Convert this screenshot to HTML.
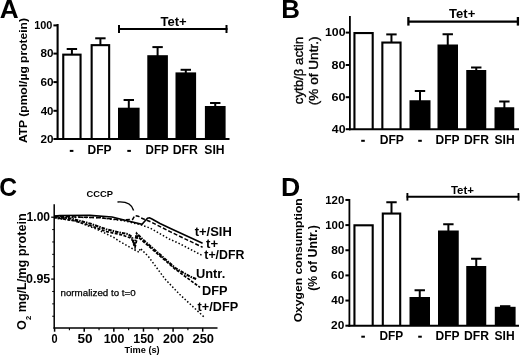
<!DOCTYPE html>
<html><head><meta charset="utf-8"><style>
html,body{margin:0;padding:0;background:#fff;}
svg{display:block;font-family:"Liberation Sans", sans-serif;will-change:transform;}
</style></head><body>
<svg width="520" height="356" viewBox="0 0 520 356">
<text x="-0.3" y="17.6" font-size="26" font-weight="bold" textLength="18.92" lengthAdjust="spacingAndGlyphs" >A</text>
<line x1="57.6" y1="24" x2="57.6" y2="140" stroke="#000" stroke-width="2.1" />
<line x1="53.4" y1="25.4" x2="57.6" y2="25.4" stroke="#000" stroke-width="2" />
<text x="34.22" y="29.29" font-size="10.6" font-weight="bold" textLength="18.23" lengthAdjust="spacingAndGlyphs" >100</text>
<line x1="53.4" y1="53.6" x2="57.6" y2="53.6" stroke="#000" stroke-width="2" />
<text x="40.52" y="57.49" font-size="10.6" font-weight="bold" textLength="12.97" lengthAdjust="spacingAndGlyphs" >80</text>
<line x1="53.4" y1="82.1" x2="57.6" y2="82.1" stroke="#000" stroke-width="2" />
<text x="40.46" y="85.99" font-size="10.6" font-weight="bold" textLength="13.04" lengthAdjust="spacingAndGlyphs" >60</text>
<line x1="53.4" y1="110.8" x2="57.6" y2="110.8" stroke="#000" stroke-width="2" />
<text x="40.73" y="114.69" font-size="10.6" font-weight="bold" textLength="12.76" lengthAdjust="spacingAndGlyphs" >40</text>
<line x1="53.4" y1="139" x2="57.6" y2="139" stroke="#000" stroke-width="2" />
<text x="40.49" y="142.89" font-size="10.6" font-weight="bold" textLength="13" lengthAdjust="spacingAndGlyphs" >20</text>
<rect x="62.2" y="53.6" width="19.4" height="85.4" fill="#000"/>
<rect x="64.3" y="55.7" width="15.2" height="83.3" fill="#fff"/>
<line x1="71.9" y1="49" x2="71.9" y2="54.6" stroke="#000" stroke-width="2" />
<line x1="66.7" y1="49" x2="77.1" y2="49" stroke="#000" stroke-width="2" />
<rect x="90.6" y="44.1" width="19.6" height="94.9" fill="#000"/>
<rect x="92.7" y="46.2" width="15.4" height="92.8" fill="#fff"/>
<line x1="100.4" y1="38.3" x2="100.4" y2="45.1" stroke="#000" stroke-width="2" />
<line x1="95.2" y1="38.3" x2="105.6" y2="38.3" stroke="#000" stroke-width="2" />
<rect x="118" y="107.7" width="21.6" height="31.3" fill="#000"/>
<line x1="128.8" y1="100" x2="128.8" y2="108.7" stroke="#000" stroke-width="2" />
<line x1="123.6" y1="100" x2="134" y2="100" stroke="#000" stroke-width="2" />
<rect x="147.3" y="55.2" width="20.6" height="83.8" fill="#000"/>
<line x1="157.6" y1="47.1" x2="157.6" y2="56.2" stroke="#000" stroke-width="2" />
<line x1="152.4" y1="47.1" x2="162.8" y2="47.1" stroke="#000" stroke-width="2" />
<rect x="175.5" y="72.4" width="20.6" height="66.6" fill="#000"/>
<line x1="185.8" y1="69.8" x2="185.8" y2="73.4" stroke="#000" stroke-width="2" />
<line x1="180.6" y1="69.8" x2="191" y2="69.8" stroke="#000" stroke-width="2" />
<rect x="204.9" y="106" width="20.7" height="33" fill="#000"/>
<line x1="215.25" y1="103" x2="215.25" y2="107" stroke="#000" stroke-width="2" />
<line x1="210.05" y1="103" x2="220.45" y2="103" stroke="#000" stroke-width="2" />
<line x1="56.6" y1="139" x2="229.5" y2="139" stroke="#000" stroke-width="2.1" />
<text x="87.54" y="153.65" font-size="12.07" font-weight="bold" textLength="24.03" lengthAdjust="spacingAndGlyphs" >DFP</text>
<text x="145.57" y="153.65" font-size="12.07" font-weight="bold" textLength="23.19" lengthAdjust="spacingAndGlyphs" >DFP</text>
<text x="172.72" y="153.65" font-size="12.07" font-weight="bold" textLength="25.28" lengthAdjust="spacingAndGlyphs" >DFR</text>
<text x="204.39" y="153.65" font-size="12.07" font-weight="bold" textLength="20.28" lengthAdjust="spacingAndGlyphs" >SIH</text>
<rect x="69.8" y="149.9" width="3.6" height="2" fill="#000"/>
<rect x="127.3" y="149.9" width="3.6" height="2" fill="#000"/>
<line x1="118" y1="29" x2="227.5" y2="29" stroke="#000" stroke-width="2" />
<line x1="119" y1="25" x2="119" y2="33" stroke="#000" stroke-width="2" />
<line x1="226.5" y1="25" x2="226.5" y2="33" stroke="#000" stroke-width="2" />
<text x="160.52" y="25.63" font-size="12.33" font-weight="bold" textLength="26.15" lengthAdjust="spacingAndGlyphs" >Tet+</text>
<text transform="translate(27.33,143.1) rotate(-90)" font-size="11.63" font-weight="bold" textLength="125.1" lengthAdjust="spacingAndGlyphs" >ATP (pmol/µg protein)</text>
<text x="281.15" y="17.9" font-size="26" font-weight="bold" textLength="18.71" lengthAdjust="spacingAndGlyphs" >B</text>
<line x1="349.9" y1="16" x2="349.9" y2="130.2" stroke="#000" stroke-width="1.8" />
<line x1="345.7" y1="32.6" x2="349.9" y2="32.6" stroke="#000" stroke-width="2" />
<text x="324.98" y="36.24" font-size="11.45" font-weight="bold" textLength="20.58" lengthAdjust="spacingAndGlyphs" >100</text>
<line x1="345.7" y1="65" x2="349.9" y2="65" stroke="#000" stroke-width="2" />
<text x="331.64" y="68.64" font-size="11.45" font-weight="bold" textLength="13.94" lengthAdjust="spacingAndGlyphs" >80</text>
<line x1="345.7" y1="97.2" x2="349.9" y2="97.2" stroke="#000" stroke-width="2" />
<text x="331.58" y="100.84" font-size="11.45" font-weight="bold" textLength="14.01" lengthAdjust="spacingAndGlyphs" >60</text>
<line x1="345.7" y1="129.2" x2="349.9" y2="129.2" stroke="#000" stroke-width="2" />
<text x="331.87" y="132.84" font-size="11.45" font-weight="bold" textLength="13.71" lengthAdjust="spacingAndGlyphs" >40</text>
<rect x="353.4" y="32" width="20.35" height="97.2" fill="#000"/>
<rect x="355.5" y="34.1" width="16.15" height="95.1" fill="#fff"/>
<rect x="381.3" y="41.5" width="20.3" height="87.7" fill="#000"/>
<rect x="383.4" y="43.6" width="16.1" height="85.6" fill="#fff"/>
<line x1="391.45" y1="34.4" x2="391.45" y2="42.5" stroke="#000" stroke-width="2" />
<line x1="386.25" y1="34.4" x2="396.65" y2="34.4" stroke="#000" stroke-width="2" />
<rect x="409.5" y="100.25" width="21" height="28.95" fill="#000"/>
<line x1="420" y1="91" x2="420" y2="101.25" stroke="#000" stroke-width="2" />
<line x1="414.8" y1="91" x2="425.2" y2="91" stroke="#000" stroke-width="2" />
<rect x="437.5" y="44.5" width="20.5" height="84.7" fill="#000"/>
<line x1="447.75" y1="34.25" x2="447.75" y2="45.5" stroke="#000" stroke-width="2" />
<line x1="442.55" y1="34.25" x2="452.95" y2="34.25" stroke="#000" stroke-width="2" />
<rect x="466.25" y="70" width="20" height="59.2" fill="#000"/>
<line x1="476.25" y1="67.5" x2="476.25" y2="71" stroke="#000" stroke-width="2" />
<line x1="471.05" y1="67.5" x2="481.45" y2="67.5" stroke="#000" stroke-width="2" />
<rect x="494.5" y="107.25" width="19.75" height="21.95" fill="#000"/>
<line x1="504.38" y1="101.5" x2="504.38" y2="108.25" stroke="#000" stroke-width="2" />
<line x1="499.18" y1="101.5" x2="509.57" y2="101.5" stroke="#000" stroke-width="2" />
<line x1="348.9" y1="129.2" x2="519" y2="129.2" stroke="#000" stroke-width="2.1" />
<text x="379.73" y="143.65" font-size="12.07" font-weight="bold" textLength="24.24" lengthAdjust="spacingAndGlyphs" >DFP</text>
<text x="435.54" y="143.65" font-size="12.07" font-weight="bold" textLength="24.03" lengthAdjust="spacingAndGlyphs" >DFP</text>
<text x="464.03" y="143.65" font-size="12.07" font-weight="bold" textLength="24.97" lengthAdjust="spacingAndGlyphs" >DFR</text>
<text x="494.59" y="143.65" font-size="12.07" font-weight="bold" textLength="20.07" lengthAdjust="spacingAndGlyphs" >SIH</text>
<rect x="361.2" y="139.8" width="3.6" height="2" fill="#000"/>
<rect x="418.2" y="139.8" width="3.6" height="2" fill="#000"/>
<line x1="408" y1="21.6" x2="519" y2="21.6" stroke="#000" stroke-width="2.2" />
<line x1="408.4" y1="17" x2="408.4" y2="25.6" stroke="#000" stroke-width="2.3" />
<line x1="517.9" y1="17" x2="517.9" y2="25.6" stroke="#000" stroke-width="2.3" />
<text x="449.12" y="18.33" font-size="12.33" font-weight="bold" textLength="26.15" lengthAdjust="spacingAndGlyphs" >Tet+</text>
<text transform="translate(302.67,104.21) rotate(-90)" font-size="12.44" font-weight="normal" textLength="67.32" lengthAdjust="spacingAndGlyphs" stroke="#000" stroke-width="0.35">cytb/β actin</text>
<text transform="translate(318.01,105.2) rotate(-90)" font-size="12.23" font-weight="normal" textLength="68.69" lengthAdjust="spacingAndGlyphs" stroke="#000" stroke-width="0.35">(% of Untr.)</text>
<text x="281" y="195.9" font-size="26" font-weight="bold" textLength="19.22" lengthAdjust="spacingAndGlyphs" >D</text>
<line x1="349.4" y1="199" x2="349.4" y2="326.7" stroke="#000" stroke-width="1.8" />
<line x1="345.4" y1="199.95" x2="349.4" y2="199.95" stroke="#000" stroke-width="2" />
<text x="325.24" y="203.59" font-size="10.88" font-weight="bold" textLength="19.08" lengthAdjust="spacingAndGlyphs" >120</text>
<line x1="345.4" y1="225.1" x2="349.4" y2="225.1" stroke="#000" stroke-width="2" />
<text x="325.24" y="228.74" font-size="10.88" font-weight="bold" textLength="19.08" lengthAdjust="spacingAndGlyphs" >100</text>
<line x1="345.4" y1="250.25" x2="349.4" y2="250.25" stroke="#000" stroke-width="2" />
<text x="331.16" y="253.89" font-size="10.88" font-weight="bold" textLength="13.19" lengthAdjust="spacingAndGlyphs" >80</text>
<line x1="345.4" y1="275.4" x2="349.4" y2="275.4" stroke="#000" stroke-width="2" />
<text x="331.1" y="279.04" font-size="10.88" font-weight="bold" textLength="13.25" lengthAdjust="spacingAndGlyphs" >60</text>
<line x1="345.4" y1="300.55" x2="349.4" y2="300.55" stroke="#000" stroke-width="2" />
<text x="331.38" y="304.19" font-size="10.88" font-weight="bold" textLength="12.97" lengthAdjust="spacingAndGlyphs" >40</text>
<line x1="345.4" y1="325.7" x2="349.4" y2="325.7" stroke="#000" stroke-width="2" />
<text x="331.13" y="329.34" font-size="10.88" font-weight="bold" textLength="13.22" lengthAdjust="spacingAndGlyphs" >20</text>
<rect x="353.4" y="224.25" width="20.35" height="101.45" fill="#000"/>
<rect x="355.5" y="226.35" width="16.15" height="99.35" fill="#fff"/>
<rect x="381.75" y="212.5" width="19.5" height="113.2" fill="#000"/>
<rect x="383.85" y="214.6" width="15.3" height="111.1" fill="#fff"/>
<line x1="391.5" y1="202.25" x2="391.5" y2="213.5" stroke="#000" stroke-width="2" />
<line x1="386.3" y1="202.25" x2="396.7" y2="202.25" stroke="#000" stroke-width="2" />
<rect x="409.5" y="297" width="20.5" height="28.7" fill="#000"/>
<line x1="419.75" y1="290.25" x2="419.75" y2="298" stroke="#000" stroke-width="2" />
<line x1="414.55" y1="290.25" x2="424.95" y2="290.25" stroke="#000" stroke-width="2" />
<rect x="438" y="230.5" width="20.75" height="95.2" fill="#000"/>
<line x1="448.38" y1="224.25" x2="448.38" y2="231.5" stroke="#000" stroke-width="2" />
<line x1="443.18" y1="224.25" x2="453.57" y2="224.25" stroke="#000" stroke-width="2" />
<rect x="466.25" y="266" width="20" height="59.7" fill="#000"/>
<line x1="476.25" y1="258.75" x2="476.25" y2="267" stroke="#000" stroke-width="2" />
<line x1="471.05" y1="258.75" x2="481.45" y2="258.75" stroke="#000" stroke-width="2" />
<rect x="494.8" y="306.8" width="20.8" height="18.9" fill="#000"/>
<line x1="505.2" y1="306.2" x2="505.2" y2="307.8" stroke="#000" stroke-width="2" />
<line x1="500" y1="306.2" x2="510.4" y2="306.2" stroke="#000" stroke-width="2" />
<line x1="348.4" y1="325.7" x2="519" y2="325.7" stroke="#000" stroke-width="2.1" />
<text x="379.55" y="339.65" font-size="12.36" font-weight="bold" textLength="23.72" lengthAdjust="spacingAndGlyphs" >DFP</text>
<text x="435.54" y="339.65" font-size="12.36" font-weight="bold" textLength="24.03" lengthAdjust="spacingAndGlyphs" >DFP</text>
<text x="464.03" y="339.65" font-size="12.36" font-weight="bold" textLength="24.97" lengthAdjust="spacingAndGlyphs" >DFR</text>
<text x="494.59" y="339.65" font-size="12.36" font-weight="bold" textLength="20.07" lengthAdjust="spacingAndGlyphs" >SIH</text>
<rect x="361.3" y="335.7" width="3.6" height="2" fill="#000"/>
<rect x="418.2" y="335.7" width="3.6" height="2" fill="#000"/>
<line x1="406.6" y1="196.7" x2="519.2" y2="196.7" stroke="#000" stroke-width="1.9" />
<line x1="407.4" y1="193" x2="407.4" y2="200.6" stroke="#000" stroke-width="1.9" />
<line x1="518.5" y1="193" x2="518.5" y2="200.6" stroke="#000" stroke-width="1.9" />
<text x="450.94" y="193.74" font-size="11.04" font-weight="bold" textLength="23.07" lengthAdjust="spacingAndGlyphs" >Tet+</text>
<text transform="translate(302.16,322.34) rotate(-90)" font-size="11.73" font-weight="bold" textLength="124.05" lengthAdjust="spacingAndGlyphs" >Oxygen consumption</text>
<text transform="translate(317.19,290.87) rotate(-90)" font-size="12.33" font-weight="bold" textLength="65.63" lengthAdjust="spacingAndGlyphs" >(% of Untr.)</text>
<text x="-0.64" y="196.14" font-size="26" font-weight="bold" textLength="17.81" lengthAdjust="spacingAndGlyphs" >C</text>
<line x1="54.2" y1="204.2" x2="54.2" y2="328.8" stroke="#000" stroke-width="1.5" />
<line x1="53.5" y1="328.1" x2="217.5" y2="328.1" stroke="#000" stroke-width="1.5" />
<line x1="51.2" y1="217.2" x2="54.2" y2="217.2" stroke="#000" stroke-width="1.3" />
<line x1="52.2" y1="229.58" x2="54.2" y2="229.58" stroke="#000" stroke-width="1" />
<line x1="52.2" y1="241.96" x2="54.2" y2="241.96" stroke="#000" stroke-width="1" />
<line x1="52.2" y1="254.34" x2="54.2" y2="254.34" stroke="#000" stroke-width="1" />
<line x1="52.2" y1="266.72" x2="54.2" y2="266.72" stroke="#000" stroke-width="1" />
<line x1="51.2" y1="279.1" x2="54.2" y2="279.1" stroke="#000" stroke-width="1.3" />
<line x1="52.2" y1="291.48" x2="54.2" y2="291.48" stroke="#000" stroke-width="1" />
<line x1="52.2" y1="303.86" x2="54.2" y2="303.86" stroke="#000" stroke-width="1" />
<line x1="52.2" y1="316.24" x2="54.2" y2="316.24" stroke="#000" stroke-width="1" />
<line x1="54.6" y1="328.1" x2="54.6" y2="331.7" stroke="#000" stroke-width="1.5" />
<text x="51.61" y="342.85" font-size="12.4" font-weight="bold" textLength="6.09" lengthAdjust="spacingAndGlyphs" >0</text>
<line x1="69.41" y1="328.1" x2="69.41" y2="330.3" stroke="#000" stroke-width="1.1" />
<line x1="84.22" y1="328.1" x2="84.22" y2="331.7" stroke="#000" stroke-width="1.5" />
<text x="77.41" y="342.85" font-size="12.4" font-weight="bold" textLength="15.12" lengthAdjust="spacingAndGlyphs" >50</text>
<line x1="99.03" y1="328.1" x2="99.03" y2="330.3" stroke="#000" stroke-width="1.1" />
<line x1="113.84" y1="328.1" x2="113.84" y2="331.7" stroke="#000" stroke-width="1.5" />
<text x="103.67" y="342.85" font-size="12.4" font-weight="bold" textLength="20.79" lengthAdjust="spacingAndGlyphs" >100</text>
<line x1="128.65" y1="328.1" x2="128.65" y2="330.3" stroke="#000" stroke-width="1.1" />
<line x1="143.46" y1="328.1" x2="143.46" y2="331.7" stroke="#000" stroke-width="1.5" />
<text x="133.28" y="342.85" font-size="12.4" font-weight="bold" textLength="20.68" lengthAdjust="spacingAndGlyphs" >150</text>
<line x1="158.27" y1="328.1" x2="158.27" y2="330.3" stroke="#000" stroke-width="1.1" />
<line x1="173.08" y1="328.1" x2="173.08" y2="331.7" stroke="#000" stroke-width="1.5" />
<text x="163.11" y="342.85" font-size="12.4" font-weight="bold" textLength="20.75" lengthAdjust="spacingAndGlyphs" >200</text>
<line x1="187.89" y1="328.1" x2="187.89" y2="330.3" stroke="#000" stroke-width="1.1" />
<line x1="202.7" y1="328.1" x2="202.7" y2="331.7" stroke="#000" stroke-width="1.5" />
<text x="192.5" y="342.85" font-size="12.4" font-weight="bold" textLength="21.48" lengthAdjust="spacingAndGlyphs" >250</text>
<text x="26.6" y="220.62" font-size="13" font-weight="bold" textLength="23.45" lengthAdjust="spacingAndGlyphs" >1.00</text>
<text x="26.05" y="282.52" font-size="13.43" font-weight="bold" textLength="24.26" lengthAdjust="spacingAndGlyphs" >0.95</text>
<text x="124.56" y="352.9" font-size="9" font-weight="bold" textLength="35.06" lengthAdjust="spacingAndGlyphs" >Time (s)</text>
<text x="60.49" y="296.26" font-size="9.25" font-weight="normal" textLength="75.24" lengthAdjust="spacingAndGlyphs" stroke="#000" stroke-width="0.25">normalized to t=0</text>
<text x="86.53" y="197.4" font-size="8.2" font-weight="bold" textLength="26.49" lengthAdjust="spacingAndGlyphs" >CCCP</text>
<text transform="translate(26.08,329.96) rotate(-90)" font-size="12.3" font-weight="bold" textLength="116.7" lengthAdjust="spacingAndGlyphs" >O<tspan font-size="0.6em" dy="0.7em">2</tspan><tspan dy="-0.42em"> mg/L/mg protein</tspan></text>
<path d="M117.5 202 Q131 201 133.6 210.5" fill="none" stroke="#000" stroke-width="1.4"/>
<path d="M54 216 L60 215.5 L90 215.4 L112 217 L125 220.3 L142 224.3 L144.5 221.5 L147.5 218.3 L149.5 217.8 L152 219 L160 223.5 L170 228.2 L202.6 243.3" fill="none" stroke="#000" stroke-width="1.6" />
<path d="M54 216.5 L75 216.9 L100 217.8 L120 219.8 L132.6 219.5 L134.8 215.7 L138.2 216.2 L141 217.9 L150 221.5 L170 231.6 L202.6 247.3" fill="none" stroke="#000" stroke-width="1.5" stroke-dasharray="4 2"/>
<path d="M54 217 L100 217.6 L125 221 L140 224.6 L150 228 L170 239.4 L178.3 243 L202.6 255.7" fill="none" stroke="#000" stroke-width="1.5" stroke-dasharray="1.5 2"/>
<path d="M54 217 L70.8 218.5 L90.8 223.8 L106 229.2 L121.5 233 L128 234 L132 237 L134.3 246 L136.7 233.6 L143.4 240 L175 267.8 L190.4 276.7 L197 279.4" fill="none" stroke="#000" stroke-width="2.1" stroke-dasharray="3.5 1 1.5 1"/>
<path d="M54 217.5 L73 220.5 L90 225.5 L106 231.5 L121.5 234.8 L130 237.7 L133 241 L135 247.5 L137.5 236.5 L145 243 L175 269 L190 280 L200 287.4" fill="none" stroke="#000" stroke-width="1.7" stroke-dasharray="3 1.5"/>
<path d="M54 218 L75.4 220.8 L98.5 230 L113.8 237.5 L120 241.7 L139 252.3 L140.2 248.3 L148.3 256.4 L165 279 L179.6 294.3 L203.8 316.8" fill="none" stroke="#000" stroke-width="1.5" stroke-dasharray="1.5 2"/>
<text x="194.69" y="235.51" font-size="12" font-weight="bold" textLength="37.13" lengthAdjust="spacingAndGlyphs" >t+/SIH</text>
<text x="206.09" y="248.36" font-size="12" font-weight="bold" textLength="12.09" lengthAdjust="spacingAndGlyphs" >t+</text>
<text x="204.3" y="258.91" font-size="12" font-weight="bold" textLength="40.13" lengthAdjust="spacingAndGlyphs" >t+/DFR</text>
<text x="195.98" y="278.13" font-size="12" font-weight="bold" textLength="29.24" lengthAdjust="spacingAndGlyphs" >Untr.</text>
<text x="202.09" y="295.15" font-size="12" font-weight="bold" textLength="25.51" lengthAdjust="spacingAndGlyphs" >DFP</text>
<text x="197.59" y="311.31" font-size="12" font-weight="bold" textLength="40.6" lengthAdjust="spacingAndGlyphs" >t+/DFP</text>
</svg>
</body></html>
